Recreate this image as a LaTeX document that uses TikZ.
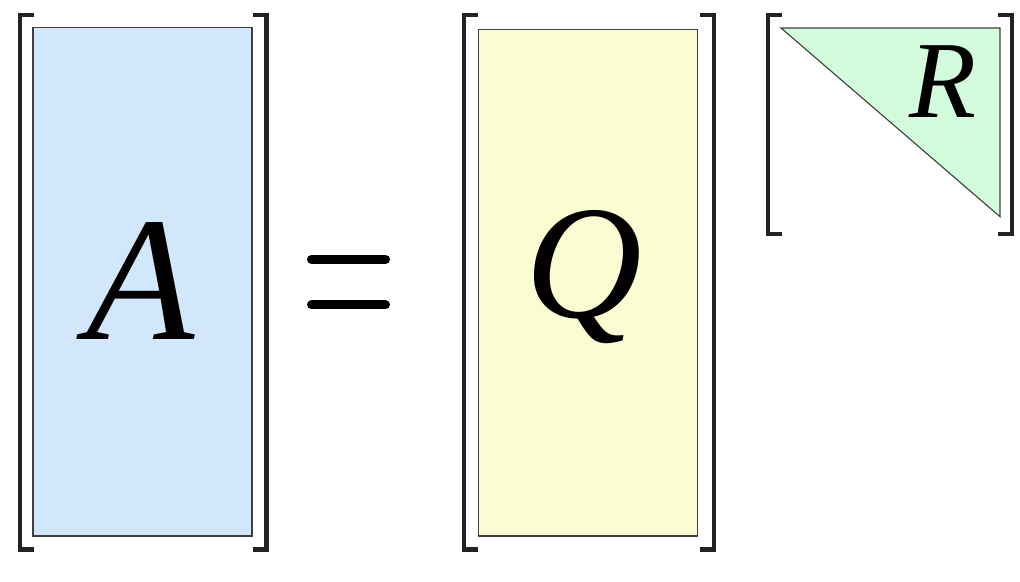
\documentclass[tikz,border=0pt]{standalone}
\usepackage{fontspec}
\setmainfont{Liberation Serif}
\definecolor{matblue}{HTML}{D2E6FC}
\definecolor{matyellow}{HTML}{FCFCD2}
\definecolor{matgreen}{HTML}{D2FCDC}
\definecolor{brackgray}{HTML}{222222}
\tikzset{
  bracket/.style={brackgray,line width=2.85pt},
  matbox/.style={draw=black!75,line width=0.8pt},
  letter/.style={inner sep=0pt,anchor=base,font=\itshape}
}

\begin{document}
\begin{tikzpicture}[x=0.025cm,y=-0.025cm]
\useasboundingbox (0,0) rectangle (1020,582);

% the three matrices
\draw[matbox,fill=matblue] (33,27.5) rectangle (252,536);
\draw[matbox,fill=matyellow] (478.5,29.5) rectangle (697.5,536);
\draw[matbox,fill=matgreen] (781,28) -- (1000,28) -- (1000,216.7) -- cycle;

% brackets
\foreach \l/\r/\b in {20/266.5/549.5, 464/714/549.5, 768/1012/234}
{
  \draw[bracket] (\l+14,15.5) -- (\l,15.5) -- (\l,\b) -- (\l+14,\b);
  \draw[bracket] (\r-14,15.5) -- (\r,15.5) -- (\r,\b) -- (\r-14,\b);
}

\node[letter,font=\itshape\fontsize{126}{130}\selectfont] (A) at (141,340) {A};
\node[letter,font=\itshape\fontsize{115}{120}\selectfont] (Q) at (584,318) {Q};
\node[letter,font=\itshape\fontsize{78}{82}\selectfont] (R) at (943,118) {R};

% equals sign
\draw[line width=6.4pt,line cap=round] (311.5,259.5) -- (385.5,259.5);
\draw[line width=6.4pt,line cap=round] (311.5,305) -- (385.5,305);
\end{tikzpicture}
\end{document}
